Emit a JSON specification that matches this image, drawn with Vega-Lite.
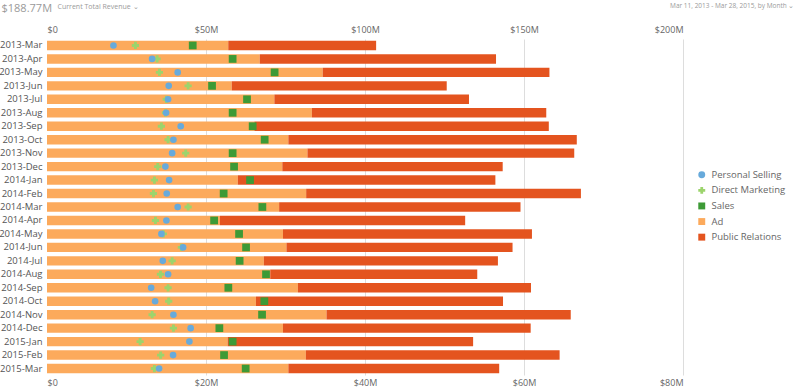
{
  "$schema": "https://vega.github.io/schema/vega-lite/v6.json",
  "autosize": {"type": "none"},
  "width": 636,
  "height": 336,
  "padding": {"left": 47, "top": 39, "right": 117, "bottom": 14},
  "config": {
    "font": "Open Sans",
    "view": {"stroke": null},
    "legend": {
      "padding": 0,
      "title": null,
      "orient": "none",
      "legendX": 650,
      "legendY": 131,
      "symbolSize": 48,
      "labelFontSize": 9.5,
      "labelColor": "#666666",
      "labelOffset": 5,
      "rowPadding": 4.6
    }
  },
  "datasets": {
    "stacked": [
      {"month": "2013-Mar", "series": "Ad", "value": 57.0}, {"month": "2013-Mar", "series": "Public Relations", "value": 46.5},
      {"month": "2013-Apr", "series": "Ad", "value": 66.9}, {"month": "2013-Apr", "series": "Public Relations", "value": 74.3},
      {"month": "2013-May", "series": "Ad", "value": 86.7}, {"month": "2013-May", "series": "Public Relations", "value": 71.3},
      {"month": "2013-Jun", "series": "Ad", "value": 58.1}, {"month": "2013-Jun", "series": "Public Relations", "value": 67.6},
      {"month": "2013-Jul", "series": "Ad", "value": 71.5}, {"month": "2013-Jul", "series": "Public Relations", "value": 61.2},
      {"month": "2013-Aug", "series": "Ad", "value": 83.3}, {"month": "2013-Aug", "series": "Public Relations", "value": 73.7},
      {"month": "2013-Sep", "series": "Ad", "value": 65.2}, {"month": "2013-Sep", "series": "Public Relations", "value": 92.6},
      {"month": "2013-Oct", "series": "Ad", "value": 75.9}, {"month": "2013-Oct", "series": "Public Relations", "value": 90.7},
      {"month": "2013-Nov", "series": "Ad", "value": 81.9}, {"month": "2013-Nov", "series": "Public Relations", "value": 83.9},
      {"month": "2013-Dec", "series": "Ad", "value": 74.0}, {"month": "2013-Dec", "series": "Public Relations", "value": 69.3},
      {"month": "2014-Jan", "series": "Ad", "value": 60.0}, {"month": "2014-Jan", "series": "Public Relations", "value": 81.0},
      {"month": "2014-Feb", "series": "Ad", "value": 81.5}, {"month": "2014-Feb", "series": "Public Relations", "value": 86.4},
      {"month": "2014-Mar", "series": "Ad", "value": 73.0}, {"month": "2014-Mar", "series": "Public Relations", "value": 75.9},
      {"month": "2014-Apr", "series": "Ad", "value": 54.4}, {"month": "2014-Apr", "series": "Public Relations", "value": 77.1},
      {"month": "2014-May", "series": "Ad", "value": 74.2}, {"month": "2014-May", "series": "Public Relations", "value": 78.3},
      {"month": "2014-Jun", "series": "Ad", "value": 75.3}, {"month": "2014-Jun", "series": "Public Relations", "value": 71.1},
      {"month": "2014-Jul", "series": "Ad", "value": 68.2}, {"month": "2014-Jul", "series": "Public Relations", "value": 73.6},
      {"month": "2014-Aug", "series": "Ad", "value": 70.2}, {"month": "2014-Aug", "series": "Public Relations", "value": 65.1},
      {"month": "2014-Sep", "series": "Ad", "value": 78.9}, {"month": "2014-Sep", "series": "Public Relations", "value": 73.3},
      {"month": "2014-Oct", "series": "Ad", "value": 65.7}, {"month": "2014-Oct", "series": "Public Relations", "value": 77.7},
      {"month": "2014-Nov", "series": "Ad", "value": 87.9}, {"month": "2014-Nov", "series": "Public Relations", "value": 76.8},
      {"month": "2014-Dec", "series": "Ad", "value": 74.2}, {"month": "2014-Dec", "series": "Public Relations", "value": 77.9},
      {"month": "2015-Jan", "series": "Ad", "value": 56.8}, {"month": "2015-Jan", "series": "Public Relations", "value": 77.2},
      {"month": "2015-Feb", "series": "Ad", "value": 81.4}, {"month": "2015-Feb", "series": "Public Relations", "value": 79.8},
      {"month": "2015-Mar", "series": "Ad", "value": 75.9}, {"month": "2015-Mar", "series": "Public Relations", "value": 66.3}
    ],
    "markers": [
      {"month": "2013-Mar", "series": "Sales", "value": 18.33}, {"month": "2013-Mar", "series": "Direct Marketing", "value": 11.12}, {"month": "2013-Mar", "series": "Personal Selling", "value": 8.36},
      {"month": "2013-Apr", "series": "Sales", "value": 23.35}, {"month": "2013-Apr", "series": "Direct Marketing", "value": 13.85}, {"month": "2013-Apr", "series": "Personal Selling", "value": 13.22},
      {"month": "2013-May", "series": "Sales", "value": 28.63}, {"month": "2013-May", "series": "Direct Marketing", "value": 14.14}, {"month": "2013-May", "series": "Personal Selling", "value": 16.44},
      {"month": "2013-Jun", "series": "Sales", "value": 20.76}, {"month": "2013-Jun", "series": "Direct Marketing", "value": 17.75}, {"month": "2013-Jun", "series": "Personal Selling", "value": 15.31},
      {"month": "2013-Jul", "series": "Sales", "value": 25.16}, {"month": "2013-Jul", "series": "Direct Marketing", "value": 15.0}, {"month": "2013-Jul", "series": "Personal Selling", "value": 15.23},
      {"month": "2013-Aug", "series": "Sales", "value": 23.35}, {"month": "2013-Aug", "series": "Direct Marketing", "value": 14.9}, {"month": "2013-Aug", "series": "Personal Selling", "value": 14.98},
      {"month": "2013-Sep", "series": "Sales", "value": 25.87}, {"month": "2013-Sep", "series": "Direct Marketing", "value": 14.39}, {"month": "2013-Sep", "series": "Personal Selling", "value": 16.82},
      {"month": "2013-Oct", "series": "Sales", "value": 27.38}, {"month": "2013-Oct", "series": "Direct Marketing", "value": 15.23}, {"month": "2013-Oct", "series": "Personal Selling", "value": 15.9},
      {"month": "2013-Nov", "series": "Sales", "value": 23.35}, {"month": "2013-Nov", "series": "Direct Marketing", "value": 17.45}, {"month": "2013-Nov", "series": "Personal Selling", "value": 15.74},
      {"month": "2013-Dec", "series": "Sales", "value": 23.53}, {"month": "2013-Dec", "series": "Direct Marketing", "value": 13.93}, {"month": "2013-Dec", "series": "Personal Selling", "value": 14.89},
      {"month": "2014-Jan", "series": "Sales", "value": 25.54}, {"month": "2014-Jan", "series": "Direct Marketing", "value": 13.51}, {"month": "2014-Jan", "series": "Personal Selling", "value": 15.36},
      {"month": "2014-Feb", "series": "Sales", "value": 22.22}, {"month": "2014-Feb", "series": "Direct Marketing", "value": 13.39}, {"month": "2014-Feb", "series": "Personal Selling", "value": 15.06},
      {"month": "2014-Mar", "series": "Sales", "value": 27.09}, {"month": "2014-Mar", "series": "Direct Marketing", "value": 17.75}, {"month": "2014-Mar", "series": "Personal Selling", "value": 16.44},
      {"month": "2014-Apr", "series": "Sales", "value": 21.02}, {"month": "2014-Apr", "series": "Direct Marketing", "value": 13.64}, {"month": "2014-Apr", "series": "Personal Selling", "value": 15.02},
      {"month": "2014-May", "series": "Sales", "value": 24.16}, {"month": "2014-May", "series": "Direct Marketing", "value": 14.64}, {"month": "2014-May", "series": "Personal Selling", "value": 14.39},
      {"month": "2014-Jun", "series": "Sales", "value": 25.04}, {"month": "2014-Jun", "series": "Direct Marketing", "value": 16.9}, {"month": "2014-Jun", "series": "Personal Selling", "value": 17.12},
      {"month": "2014-Jul", "series": "Sales", "value": 24.23}, {"month": "2014-Jul", "series": "Direct Marketing", "value": 15.74}, {"month": "2014-Jul", "series": "Personal Selling", "value": 14.56},
      {"month": "2014-Aug", "series": "Sales", "value": 27.55}, {"month": "2014-Aug", "series": "Direct Marketing", "value": 14.27}, {"month": "2014-Aug", "series": "Personal Selling", "value": 15.23},
      {"month": "2014-Sep", "series": "Sales", "value": 22.81}, {"month": "2014-Sep", "series": "Direct Marketing", "value": 15.23}, {"month": "2014-Sep", "series": "Personal Selling", "value": 13.1},
      {"month": "2014-Oct", "series": "Sales", "value": 27.34}, {"month": "2014-Oct", "series": "Direct Marketing", "value": 15.31}, {"month": "2014-Oct", "series": "Personal Selling", "value": 13.6},
      {"month": "2014-Nov", "series": "Sales", "value": 27.05}, {"month": "2014-Nov", "series": "Direct Marketing", "value": 13.22}, {"month": "2014-Nov", "series": "Personal Selling", "value": 15.9},
      {"month": "2014-Dec", "series": "Sales", "value": 21.68}, {"month": "2014-Dec", "series": "Direct Marketing", "value": 15.9}, {"month": "2014-Dec", "series": "Personal Selling", "value": 18.07},
      {"month": "2015-Jan", "series": "Sales", "value": 23.35}, {"month": "2015-Jan", "series": "Direct Marketing", "value": 11.71}, {"month": "2015-Jan", "series": "Personal Selling", "value": 17.91},
      {"month": "2015-Feb", "series": "Sales", "value": 22.27}, {"month": "2015-Feb", "series": "Direct Marketing", "value": 14.3}, {"month": "2015-Feb", "series": "Personal Selling", "value": 15.86},
      {"month": "2015-Mar", "series": "Sales", "value": 24.99}, {"month": "2015-Mar", "series": "Direct Marketing", "value": 13.51}, {"month": "2015-Mar", "series": "Personal Selling", "value": 14.1}
    ]
  },
  "resolve": {"scale": {"x": "independent"}, "axis": {"x": "independent"}},
  "layer": [
    {
      "data": {"name": "stacked"},
      "mark": {"type": "bar"},
      "encoding": {
        "y": {
          "field": "month",
          "type": "nominal",
          "sort": null,
          "scale": {
            "domain": ["2013-Mar", "2013-Apr", "2013-May", "2013-Jun", "2013-Jul", "2013-Aug", "2013-Sep", "2013-Oct", "2013-Nov", "2013-Dec", "2014-Jan", "2014-Feb", "2014-Mar", "2014-Apr", "2014-May", "2014-Jun", "2014-Jul", "2014-Aug", "2014-Sep", "2014-Oct", "2014-Nov", "2014-Dec", "2015-Jan", "2015-Feb", "2015-Mar"],
            "paddingInner": 0.3,
            "paddingOuter": 0.13
          },
          "axis": {
            "title": "$188.77M",
            "titleAngle": 0,
            "titleX": -46,
            "titleY": -31,
            "titleAlign": "left",
            "titleBaseline": "middle",
            "titleFontSize": 11,
            "titleFontWeight": "normal",
            "titleColor": "#9a9a9a",
            "ticks": false,
            "domain": false,
            "labelPadding": 5,
            "labelFontSize": 9.5,
            "labelColor": "#555555"
          }
        },
        "x": {
          "field": "value",
          "type": "quantitative",
          "stack": "zero",
          "scale": {"domain": [0, 200], "nice": false},
          "axis": {
            "orient": "top",
            "values": [0, 50, 100, 150, 200],
            "labelExpr": "datum.value == 0 ? '$0' : '$' + datum.value + 'M'",
            "labelFontSize": 9,
            "labelColor": "#666666",
            "labelPadding": 5,
            "ticks": false,
            "domain": false,
            "grid": true,
            "gridColor": "#dddddd",
            "gridOpacity": {"condition": {"test": "datum.value == 0", "value": 0}, "value": 1},
            "title": "Current Total Revenue ⌄",
            "titleX": 10,
            "titleY": -33,
            "titleAlign": "left",
            "titleBaseline": "middle",
            "titleFontSize": 7,
            "titleFontWeight": "normal",
            "titleColor": "#9a9a9a"
          }
        },
        "color": {
          "field": "series",
          "type": "nominal",
          "scale": {
            "domain": ["Personal Selling", "Direct Marketing", "Sales", "Ad", "Public Relations"],
            "range": ["#67aadb", "#9cd46c", "#3d9a36", "#fcaa5c", "#e4541f"]
          }
        },
        "order": {"field": "series", "sort": "ascending"}
      }
    },
    {
      "data": {"name": "markers"},
      "mark": {"type": "point", "filled": true, "opacity": 1},
      "encoding": {
        "y": {"field": "month", "type": "nominal", "sort": null},
        "x": {
          "field": "value",
          "type": "quantitative",
          "scale": {"domain": [0, 80], "nice": false},
          "axis": {
            "orient": "bottom",
            "values": [0, 20, 40, 60, 80],
            "labelExpr": "datum.value == 0 ? '$0' : '$' + datum.value + 'M'",
            "labelFontSize": 9,
            "labelColor": "#666666",
            "labelPadding": 3,
            "ticks": false,
            "domain": false,
            "grid": false,
            "title": "Mar 11, 2013 - Mar 28, 2015, by Month ⌄",
            "titleX": 747,
            "titleY": -370,
            "titleAlign": "right",
            "titleBaseline": "middle",
            "titleFontSize": 6.5,
            "titleFontWeight": "normal",
            "titleColor": "#9a9a9a"
          }
        },
        "color": {"field": "series", "type": "nominal"},
        "shape": {
          "field": "series",
          "type": "nominal",
          "scale": {
            "domain": ["Personal Selling", "Direct Marketing", "Sales", "Ad", "Public Relations"],
            "range": ["circle", "cross", "square", "square", "square"]
          }
        },
        "size": {
          "field": "series",
          "type": "nominal",
          "scale": {
            "domain": ["Personal Selling", "Direct Marketing", "Sales"],
            "range": [44, 60, 48]
          },
          "legend": null
        }
      }
    }
  ]
}
